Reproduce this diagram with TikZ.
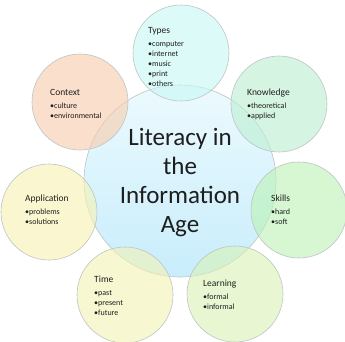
\documentclass[tikz,border=0pt]{standalone}
\usepackage{fontspec}
\setmainfont{Carlito}
\usetikzlibrary{positioning}

\definecolor{rimgray}{RGB}{190,196,196}
\definecolor{inkgray}{RGB}{30,30,30}
\definecolor{hubtop}{RGB}{236,250,254}
\definecolor{hubbottom}{RGB}{200,237,251}
\definecolor{typesfill}{RGB}{198,248,243}
\definecolor{knowfill}{RGB}{187,238,208}
\definecolor{skillsfill}{RGB}{187,243,180}
\definecolor{learnfill}{RGB}{217,243,180}
\definecolor{timefill}{RGB}{243,243,180}
\definecolor{applyfill}{RGB}{247,243,177}
\definecolor{contextfill}{RGB}{247,203,170}

\newcommand\headfont{\fontsize{9.5}{12}\selectfont}

\begin{document}
\begin{tikzpicture}[x=1pt,y=-1pt,
  petal/.style={circle, draw=rimgray, line width=0.6pt, minimum size=96pt, inner sep=0pt, fill opacity=0.6},
  blurb/.style={anchor=base west, align=left, inner sep=0pt, text=inkgray, font=\fontsize{8}{10}\selectfont}]
\useasboundingbox (0,0) rectangle (345,341);
\fill[white] (0,0) rectangle (345,341);
\clip (0,0) rectangle (345,341);

\node[circle, draw=rimgray, line width=0.6pt, minimum size=192pt, inner sep=0pt,
      top color=hubtop, bottom color=hubbottom] (hub) at (180,181) {};

\node[petal, fill=typesfill] (types) at (181,53) {};
\node[petal, fill=knowfill] (know) at (279,104) {};
\node[petal, fill=skillsfill] (skills) at (299,210) {};
\node[petal, fill=learnfill] (learn) at (235,294) {};
\node[petal, fill=timefill] (time) at (125,295) {};
\node[petal, fill=applyfill] (apply) at (49,212) {};
\node[petal, fill=contextfill] (context) at (80,102) {};

% multi-line nodes sit on their last baseline
\node[anchor=base, align=center, inner sep=0pt, text=inkgray,
      font=\fontsize{25}{29}\selectfont] (title) at (180,232)
  {Literacy in\\the\\Information\\Age};

\node[blurb] (typesText) at (148,86) {{\headfont Types}\\[3pt]\textbullet computer\\\textbullet internet\\\textbullet music\\\textbullet print\\\textbullet others};
\node[blurb] (knowText) at (247,118) {{\headfont Knowledge}\\[3pt]\textbullet theoretical\\\textbullet applied};
\node[blurb] (skillsText) at (271,224) {{\headfont Skills}\\[3pt]\textbullet hard\\\textbullet soft};
\node[blurb] (learnText) at (203,309) {{\headfont Learning}\\[3pt]\textbullet formal\\\textbullet informal};
\node[blurb] (timeText) at (94,315) {{\headfont Time}\\[3pt]\textbullet past\\\textbullet present\\\textbullet future};
\node[blurb] (applyText) at (25,224) {{\headfont Application}\\[3pt]\textbullet problems\\\textbullet solutions};
\node[blurb] (contextText) at (50,118) {{\headfont Context}\\[3pt]\textbullet culture\\\textbullet environmental};
\end{tikzpicture}
\end{document}
